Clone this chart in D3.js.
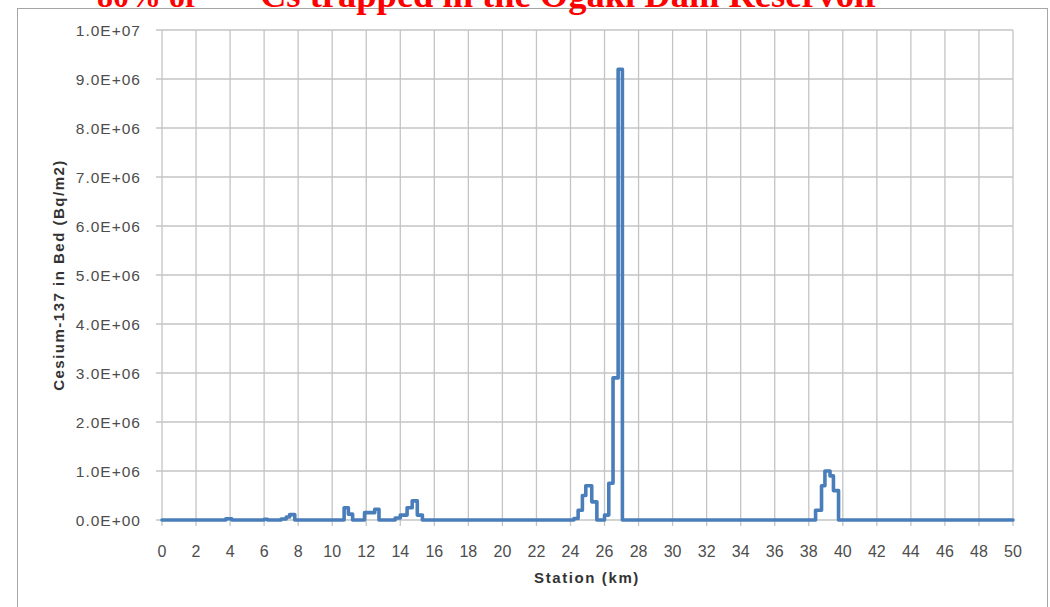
<!DOCTYPE html>
<html>
<head>
<meta charset="utf-8">
<script src="https://cdn.jsdelivr.net/npm/d3@7"></script>
<style>
  html, body { margin: 0; padding: 0; background: #ffffff; }
  svg { display: block; }
</style>
</head>
<body>
<svg id="chart" width="1050" height="607"></svg>
<script>
// ---- data ----
const stationsKm = [0, 3.75, 4.1, 6.0, 6.2, 7.0, 7.3, 7.5, 7.8,
  10.7, 10.95, 11.2, 11.9, 12.5, 12.75, 13.7, 14.0, 14.4, 14.7, 15.0, 15.3,
  24.2, 24.45, 24.7, 24.9, 25.25, 25.55, 26.0, 26.25, 26.5, 26.8, 27.05,
  38.4, 38.75, 38.95, 39.25, 39.45, 39.75, 50];
const cesiumBq = [0, 25000, 0, 15000, 0, 20000, 60000, 110000, 0,
  250000, 120000, 0, 150000, 220000, 0, 40000, 100000, 250000, 390000, 100000, 0,
  30000, 200000, 500000, 700000, 370000, 0, 100000, 750000, 2900000, 9200000, 0,
  200000, 700000, 1000000, 900000, 600000, 0, 0];
const xTicks = d3.range(0, 51, 2);
const yTicks = d3.range(0, 10000001, 1000000);
const yTickLabels = ["0.0E+00","1.0E+06","2.0E+06","3.0E+06","4.0E+06","5.0E+06",
  "6.0E+06","7.0E+06","8.0E+06","9.0E+06","1.0E+07"];

const svg = d3.select("#chart");
const m = {left: 162, right: 1013, top: 30, bottom: 520};
const x = d3.scaleLinear().domain([0, 50]).range([m.left, m.right]);
const y = d3.scaleLinear().domain([0, 10000000]).range([m.bottom, m.top]);

// outer chart border
svg.append("rect").attr("x", 17.5).attr("y", 8.5).attr("width", 1030).attr("height", 640)
  .attr("fill", "none").attr("stroke", "#a6a6a6").attr("stroke-width", 1);

const gridColor = "#c4c4c4";
// horizontal grid
svg.append("g").selectAll("line").data(yTicks).join("line")
  .attr("x1", m.left - 6).attr("x2", m.right)
  .attr("y1", d => y(d)).attr("y2", d => y(d))
  .attr("stroke", gridColor).attr("stroke-width", 1.3);
// vertical grid
svg.append("g").selectAll("line").data(xTicks).join("line")
  .attr("x1", d => x(d)).attr("x2", d => x(d))
  .attr("y1", m.top).attr("y2", m.bottom + 6)
  .attr("stroke", gridColor).attr("stroke-width", 1.3);

// y tick labels
svg.append("g").selectAll("text").data(yTicks).join("text")
  .attr("x", 141).attr("y", d => y(d)).attr("dy", "0.36em")
  .attr("text-anchor", "end")
  .attr("font-family", "'Liberation Sans', Arial, sans-serif")
  .attr("font-size", 15.5).attr("letter-spacing", 1)
  .attr("fill", "#4d4d4d")
  .text((d, i) => yTickLabels[i]);

// x tick labels
svg.append("g").selectAll("text").data(xTicks).join("text")
  .attr("x", d => x(d)).attr("y", 557)
  .attr("text-anchor", "middle")
  .attr("font-family", "'Liberation Sans', Arial, sans-serif")
  .attr("font-size", 16)
  .attr("fill", "#4d4d4d")
  .text(d => d);

// axis titles
svg.append("text")
  .attr("x", 587).attr("y", 583).attr("text-anchor", "middle")
  .attr("font-family", "'Liberation Sans', Arial, sans-serif")
  .attr("font-size", 15).attr("font-weight", "bold").attr("letter-spacing", 1.6)
  .attr("fill", "#333333")
  .text("Station (km)");
svg.append("text")
  .attr("transform", "translate(64,275) rotate(-90)")
  .attr("text-anchor", "middle")
  .attr("font-family", "'Liberation Sans', Arial, sans-serif")
  .attr("font-size", 15).attr("font-weight", "bold").attr("letter-spacing", 1.5)
  .attr("fill", "#333333")
  .text("Cesium-137 in Bed (Bq/m2)");

// data line
const pts = stationsKm.map((k, i) => [k, cesiumBq[i]]);
const line = d3.line().x(d => x(d[0])).y(d => y(d[1])).curve(d3.curveStepAfter);
svg.append("path").datum(pts)
  .attr("d", line)
  .attr("fill", "none").attr("stroke", "#4a7ebb")
  .attr("stroke-width", 3.6).attr("stroke-linejoin", "round").attr("stroke-linecap", "round");

// title (cut off at the top in the reference)
const title = svg.append("text")
  .attr("y", 7)
  .attr("font-family", "'Liberation Serif', 'Times New Roman', serif")
  .attr("font-weight", "bold").attr("fill", "#ff0000");
title.append("tspan").attr("x", 97).attr("font-size", 32).text("80% of ");
title.append("tspan").attr("x", 208).attr("dy", -12).attr("font-size", 21).text("137");
title.append("tspan").attr("x", 260).attr("dy", 12).attr("font-size", 36.5).text("Cs trapped in the Ogaki Dam Reservoir");
</script>
</body>
</html>
